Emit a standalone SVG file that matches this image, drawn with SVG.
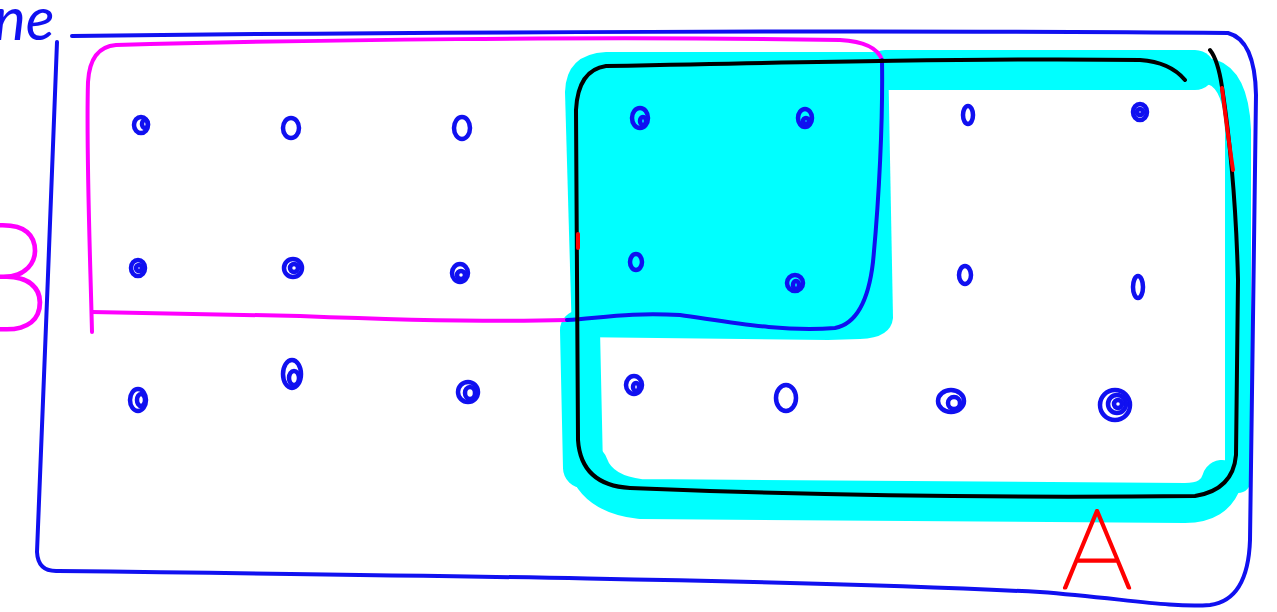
<svg xmlns="http://www.w3.org/2000/svg" width="1277" height="612" viewBox="0 0 1277 612">
<style>
.ln{fill:none;stroke-linecap:round;stroke-linejoin:round}
.bl{stroke:#1010f0;stroke-width:4}
.mg{stroke:#ff00ff;stroke-width:4}
.bk{stroke:#000;stroke-width:4}
.rd{stroke:#ff0000;stroke-width:4}
.cy{stroke:#00ffff}
.dot{fill:none;stroke:#1010f0;stroke-width:4.5}
.lbl{font-family:Lato,"Liberation Sans",sans-serif;font-weight:200;stroke-width:3;stroke-linejoin:round}
</style>
<rect width="1277" height="612" fill="#fff"/>
<g id="highlight">
<path d="M565,92 Q566,54 606,52 L888,52 L893,318 Q891,338 860,339 L828,340 L572,337 Z" fill="#00ffff"/>
<path class="ln cy" stroke-width="40" d="M885,70 L1195,70"/>
<path class="ln cy" stroke-width="26" d="M1212,72 Q1236,80 1238,130 L1238,480"/>
<path class="ln cy" stroke-width="40" d="M1222,480 Q1215,503 1185,503 L640,499 Q598,494 588,465"/>
<path class="ln cy" stroke-width="40" d="M580,330 L583,468"/>
</g>
<g id="universe">
<path class="ln bl" d="M57,42 C52,200 42,400 37,552 Q38,572 58,571 C400,575 800,580 1040,592 C1120,598 1170,608 1210,605 Q1248,600 1250,540 L1256,95 Q1255,40 1228,33 C900,30 400,32 72,36"/>
</g>
<g id="setB">
<path class="ln mg" d="M92,332 C90,250 86,150 88,82 Q90,47 116,45 C300,40 600,36 840,40 Q876,42 882,60"/>
<path class="ln mg" d="M92,312 L300,316 C400,320 500,322 567,320"/>
<path class="ln bl" d="M882,60 C883,120 879,200 873,262 Q866,322 835,328 C780,332 730,322 680,315 C630,312 600,318 567,320"/>
</g>
<g id="setA">
<path class="ln bk" d="M1185,80 Q1170,62 1140,60 C1000,58 800,62 606,66 Q578,70 576,110 L578,440 Q581,485 630,488 C800,495 1000,498 1195,496 Q1233,490 1236,455 L1238,280 C1236,200 1230,140 1222,87 Q1218,60 1210,50"/>
<path class="ln rd" d="M1222,88 C1226,120 1230,150 1233,170"/>
<path class="ln rd" stroke-width="3" d="M578,234 L578,248"/>
</g>
<g id="elements">
<ellipse class="dot" cx="141" cy="125" rx="7" ry="8"/><ellipse class="dot" cx="145" cy="124" rx="3" ry="4"/>
<ellipse class="dot" cx="291" cy="128" rx="8" ry="10"/>
<ellipse class="dot" cx="462" cy="128" rx="8" ry="11"/>
<ellipse class="dot" cx="640" cy="118" rx="8" ry="10"/><ellipse class="dot" cx="643" cy="121" rx="3" ry="4"/>
<ellipse class="dot" cx="805" cy="118" rx="7" ry="9"/><ellipse class="dot" cx="806" cy="121" rx="3" ry="3"/>
<ellipse class="dot" cx="968" cy="115" rx="5" ry="9"/>
<ellipse class="dot" cx="1140" cy="112" rx="7" ry="8"/><ellipse class="dot" cx="1140" cy="112" rx="3" ry="3"/>
<ellipse class="dot" cx="138" cy="268" rx="7" ry="8"/><ellipse class="dot" cx="139" cy="268" rx="3" ry="3"/>
<ellipse class="dot" cx="293" cy="268" rx="9" ry="9"/><ellipse class="dot" cx="294" cy="268" rx="4" ry="4"/>
<ellipse class="dot" cx="460" cy="273" rx="8" ry="9"/><ellipse class="dot" cx="461" cy="275" rx="4" ry="4"/>
<ellipse class="dot" cx="636" cy="262" rx="6" ry="8"/>
<ellipse class="dot" cx="795" cy="283" rx="8" ry="8"/><ellipse class="dot" cx="796" cy="285" rx="3" ry="4"/>
<ellipse class="dot" cx="965" cy="275" rx="6" ry="9"/>
<ellipse class="dot" cx="1138" cy="287" rx="5" ry="11"/>
<ellipse class="dot" cx="138" cy="400" rx="8" ry="11"/><ellipse class="dot" cx="141" cy="400" rx="4" ry="6"/>
<ellipse class="dot" cx="292" cy="374" rx="9" ry="14"/><ellipse class="dot" cx="294" cy="378" rx="5" ry="7"/>
<ellipse class="dot" cx="468" cy="392" rx="10" ry="10"/><ellipse class="dot" cx="470" cy="393" rx="5" ry="6"/>
<ellipse class="dot" cx="634" cy="385" rx="8" ry="9"/><ellipse class="dot" cx="636" cy="387" rx="3" ry="4"/>
<ellipse class="dot" cx="786" cy="398" rx="10" ry="13"/>
<ellipse class="dot" cx="951" cy="401" rx="13" ry="11"/><ellipse class="dot" cx="954" cy="403" rx="6" ry="6"/>
<ellipse class="dot" cx="1115" cy="405" rx="15" ry="15"/><ellipse class="dot" cx="1117" cy="404" rx="9" ry="9"/><ellipse class="dot" cx="1118" cy="404" rx="4" ry="4"/>
</g>
<g id="labels">
<text class="lbl" x="-42" y="330" font-size="150" fill="#ff00ff" stroke="#ff00ff">B</text>
<text class="lbl" x="1062" y="588" font-size="110" fill="#ff0000" stroke="#ff0000">A</text>
<text x="-6" y="40" font-size="60" font-style="italic" font-family="Lato,'Liberation Sans',sans-serif" fill="#1010f0">ne</text>
</g>
</svg>
